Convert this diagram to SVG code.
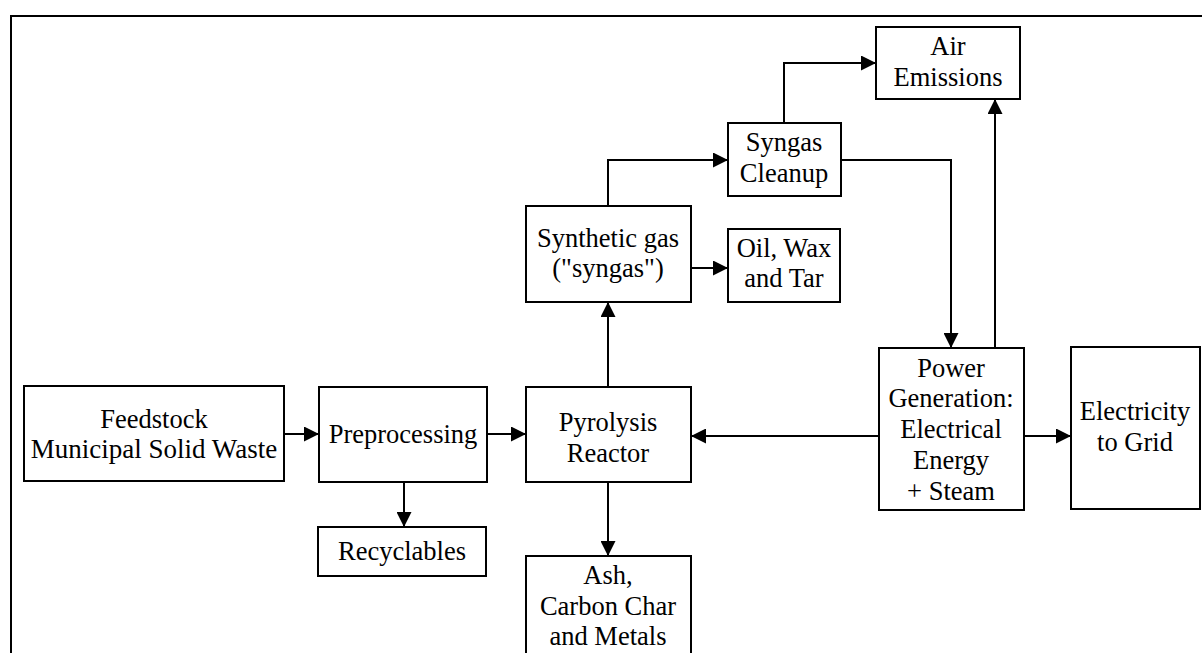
<svg xmlns="http://www.w3.org/2000/svg" width="1202" height="653" viewBox="0 0 1202 653">
<style>
.box{fill:#fff;stroke:#000;stroke-width:2}
.c{fill:none;stroke:#000;stroke-width:2}
</style>
<defs>
<marker id="ah" viewBox="0 0 15 15" refX="15" refY="7.5" markerWidth="15" markerHeight="15" markerUnits="userSpaceOnUse" orient="auto">
<path d="M0,0 L15,7.5 L0,15 Z" fill="#000"/>
</marker>
</defs>
<rect width="1202" height="653" fill="#fff"/>
<path d="M11,660 V16 H1210" fill="none" stroke="#000" stroke-width="2"/>
<g id="connectors">
<path class="c" d="M284,434 H319" marker-end="url(#ah)"/>
<path class="c" d="M487,434 H526" marker-end="url(#ah)"/>
<path class="c" d="M404,482 V527" marker-end="url(#ah)"/>
<path class="c" d="M608,482 V556" marker-end="url(#ah)"/>
<path class="c" d="M608,387 V302" marker-end="url(#ah)"/>
<path class="c" d="M608,206 V160 H728" marker-end="url(#ah)"/>
<path class="c" d="M691,268 H728" marker-end="url(#ah)"/>
<path class="c" d="M784,123 V63 H876" marker-end="url(#ah)"/>
<path class="c" d="M841,160 H951 V348" marker-end="url(#ah)"/>
<path class="c" d="M995,348 V99" marker-end="url(#ah)"/>
<path class="c" d="M879,436 H691" marker-end="url(#ah)"/>
<path class="c" d="M1024,436 H1071" marker-end="url(#ah)"/>
</g>
<g font-family="Liberation Serif, Times New Roman, serif" font-size="26.5" text-anchor="middle" fill="#000">
<g id="feedstock"><rect class="box" x="24" y="386" width="260" height="95"/><text x="154" y="428">Feedstock</text><text x="154" y="458" font-size="27">Municipal Solid Waste</text></g>
<g id="preprocessing"><rect class="box" x="319" y="387" width="168" height="95"/><text x="403" y="443">Preprocessing</text></g>
<g id="recyclables"><rect class="box" x="318" y="527" width="168" height="49"/><text x="402" y="560">Recyclables</text></g>
<g id="pyrolysis"><rect class="box" x="526" y="387" width="165" height="95"/><text x="608" y="431">Pyrolysis</text><text x="608" y="462">Reactor</text></g>
<g id="ash"><rect class="box" x="526" y="556" width="165" height="110"/><text x="608" y="584">Ash,</text><text x="608" y="615">Carbon Char</text><text x="608" y="645">and Metals</text></g>
<g id="syngas"><rect class="box" x="526" y="206" width="165" height="96"/><text x="608" y="247">Synthetic gas</text><text x="608" y="277">("syngas")</text></g>
<g id="oil"><rect class="box" x="728" y="229" width="112" height="73"/><text x="784" y="257">Oil, Wax</text><text x="784" y="287">and Tar</text></g>
<g id="cleanup"><rect class="box" x="728" y="123" width="113" height="73"/><text x="784" y="151">Syngas</text><text x="784" y="182">Cleanup</text></g>
<g id="air"><rect class="box" x="876" y="27" width="144" height="72"/><text x="948" y="55">Air</text><text x="948" y="86">Emissions</text></g>
<g id="power"><rect class="box" x="879" y="348" width="145" height="162"/><text x="951" y="377">Power</text><text x="951" y="407">Generation:</text><text x="951" y="438">Electrical</text><text x="951" y="469">Energy</text><text x="951" y="500">+ Steam</text></g>
<g id="electricity"><rect class="box" x="1071" y="347" width="129" height="162"/><text x="1135" y="420">Electricity</text><text x="1135" y="451">to Grid</text></g>
</g>
</svg>
